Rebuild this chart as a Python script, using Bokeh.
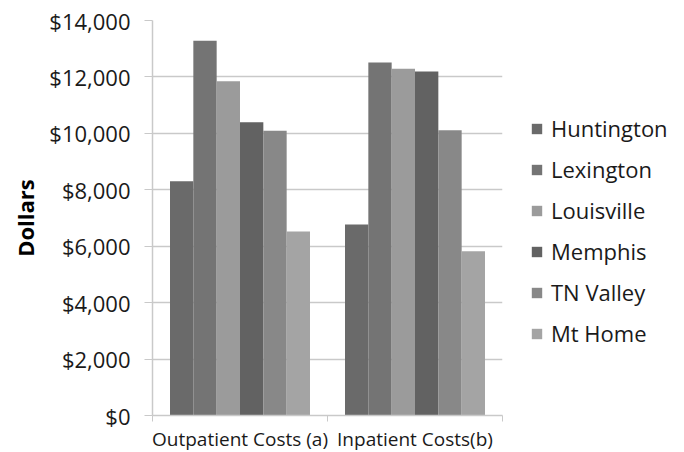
from bokeh.plotting import figure
from bokeh.models import (Range1d, FixedTicker, NumeralTickFormatter, ColumnDataSource,
                          Legend, LegendItem)
from bokeh.embed import file_html
from bokeh.resources import INLINE

# Cost categories and per-site average costs (dollars)
categories = ["Outpatient Costs (a)", "Inpatient Costs(b)"]
sites = ["Huntington", "Lexington", "Louisville", "Memphis", "TN Valley", "Mt Home"]
huntington = [8300, 6770]
lexington = [13280, 12510]
louisville = [11850, 12290]
memphis = [10390, 12190]
tn_valley = [10090, 10110]
mt_home = [6520, 5820]
series = [huntington, lexington, louisville, memphis, tn_valley, mt_home]
colors = ["#6a6a6a", "#747474", "#9b9b9b", "#626262", "#888888", "#a4a4a4"]
y_ticks = [0, 2000, 4000, 6000, 8000, 10000, 12000, 14000]

FONT = "Open Sans"
GRID = "#c9c9c9"

p = figure(frame_width=350, frame_height=395, output_backend="svg", toolbar_location=None,
           x_range=Range1d(0, len(categories)), y_range=Range1d(0, 14000),
           min_border_left=152, min_border_right=182, min_border_top=20,
           min_border_bottom=37)
p.outline_line_color = None
p.background_fill_color = "white"
p.border_fill_color = "white"

group_width = 0.8
bar_w = group_width / len(sites)
renderers = []
for i, (name, vals, col) in enumerate(zip(sites, series, colors)):
    xs = [g + 0.5 + (i - (len(sites) - 1) / 2) * bar_w for g in range(len(categories))]
    src = ColumnDataSource(dict(x=xs, top=vals))
    r = p.vbar(x="x", top="top", width=bar_w, source=src, fill_color=col,
               line_color=None)
    renderers.append((name, r))

# y axis
p.yaxis.ticker = FixedTicker(ticks=y_ticks)
p.yaxis.formatter = NumeralTickFormatter(format="$0,0")
p.yaxis.axis_label = "Dollars"
p.yaxis.axis_label_text_font = FONT
p.yaxis.axis_label_text_font_style = "bold"
p.yaxis.axis_label_text_font_size = "22px"
p.yaxis.axis_label_text_color = "black"
p.yaxis.axis_label_standoff = 6
p.yaxis.major_label_text_font = FONT
p.yaxis.major_label_text_font_size = "22px"
p.yaxis.major_label_text_color = "#1a1a1a"
p.yaxis.major_label_standoff = 14
p.yaxis.major_tick_out = 8
p.yaxis.major_tick_in = 0
p.yaxis.minor_tick_line_color = None
p.yaxis.major_tick_line_color = GRID
p.yaxis.axis_line_color = GRID
p.yaxis.axis_line_width = 1.5

# x axis: labels at category centres, tick marks at category boundaries
p.xaxis.ticker = FixedTicker(ticks=[g + 0.5 for g in range(len(categories))],
                             minor_ticks=list(range(len(categories) + 1)))
p.xaxis.major_label_overrides = {g + 0.5: c for g, c in enumerate(categories)}
p.xaxis.major_tick_line_color = None
p.xaxis.minor_tick_out = 6
p.xaxis.minor_tick_in = 0
p.xaxis.minor_tick_line_color = GRID
p.xaxis.axis_line_color = GRID
p.xaxis.axis_line_width = 1.5
p.xaxis.major_label_text_font = FONT
p.xaxis.major_label_text_font_size = "19px"
p.xaxis.major_label_text_color = "#1a1a1a"
p.xaxis.major_label_standoff = 4

p.xgrid.grid_line_color = None
p.ygrid.grid_line_color = GRID
p.ygrid.grid_line_width = 1.5

legend = Legend(items=[LegendItem(label=n, renderers=[r]) for n, r in renderers],
                location=(28, 67), border_line_color=None,
                background_fill_alpha=0,
                label_text_font=FONT, label_text_font_size="22px",
                label_text_color="#1a1a1a",
                glyph_width=13, glyph_height=13, label_height=20,
                spacing=11, margin=0, padding=0, label_standoff=8)
p.add_layout(legend, "right")

open("out.html", "w").write(file_html(p, INLINE))
